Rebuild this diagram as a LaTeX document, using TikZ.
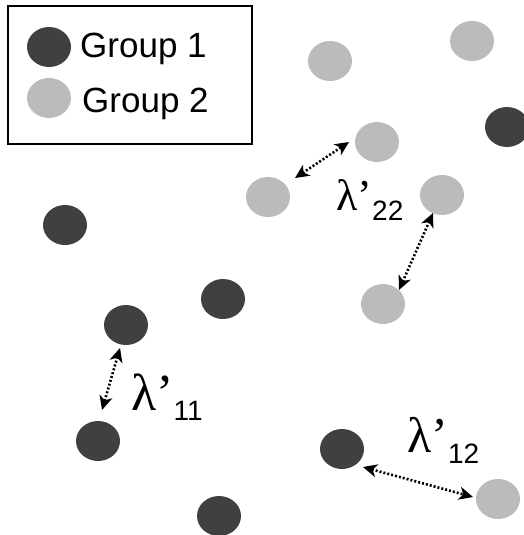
\documentclass[tikz,border=0pt]{standalone}
\usepackage{fontspec}
\setmainfont{Liberation Sans}
\newfontfamily\lamfont{Liberation Serif}
\usetikzlibrary{arrows.meta,calc}
\definecolor{darkdot}{HTML}{404040}
\definecolor{lightdot}{HTML}{BBBBBB}
\tikzset{
  dotdark/.style={ellipse,fill=darkdot,minimum width=44pt,minimum height=40pt,inner sep=0pt},
  dotlight/.style={ellipse,fill=lightdot,minimum width=44pt,minimum height=40pt,inner sep=0pt},
  arr/.style={line width=2.6pt,dash pattern=on 2pt off 2pt,{Stealth[length=14pt,width=13pt,inset=4pt]}-{Stealth[length=14pt,width=13pt,inset=4pt]}},
  legtext/.style={anchor=base west,inner sep=0pt,font=\fontsize{35}{40}\selectfont},
  lamlabel/.style={anchor=base west,inner sep=0pt}
}
\usetikzlibrary{shapes.geometric}
\newcommand{\lamlab}[3]{{\lamfont\fontsize{#1}{#1}\selectfont λ’}\raisebox{-#3pt}{\fontsize{28}{28}\selectfont #2}}
\begin{document}
\begin{tikzpicture}[x=1pt,y=-1pt]
\useasboundingbox (0,0) rectangle (524,535);
% legend
\node[draw,line width=2pt,minimum width=244pt,minimum height=138pt,inner sep=0pt] (legend) at (130,75) {};
\node[dotdark] (ld) at (49,47) {};
\node[dotlight] (ll) at (49,98) {};
\node[legtext] (lt1) at (80,58) {Group 1};
\node[legtext] (lt2) at (82,112) {Group 2};
% group 2 (light)
\node[dotlight] (g2a) at (330,61) {};
\node[dotlight] (g2b) at (472,41) {};
\node[dotlight] (g2c) at (377,142) {};
\node[dotlight] (g2d) at (268,197) {};
\node[dotlight] (g2e) at (442,195) {};
\node[dotlight] (g2f) at (383,304) {};
\node[dotlight] (g2g) at (498,499) {};
% group 1 (dark)
\node[dotdark] (g1a) at (507,127) {};
\node[dotdark] (g1b) at (65,225) {};
\node[dotdark] (g1c) at (223,299) {};
\node[dotdark] (g1d) at (126,325) {};
\node[dotdark] (g1e) at (98,441) {};
\node[dotdark] (g1f) at (342,449) {};
\node[dotdark] (g1g) at (219,516) {};
% arrows
\draw[arr] ($(g2d)+(27,-19)$) -- ($(g2c)+(-28,0)$);
\draw[arr] ($(g2e)+(-9,18)$) -- ($(g2f)+(16,-14)$);
\draw[arr] ($(g1d)+(-6,23)$) -- ($(g1e)+(4,-31)$);
\draw[arr] ($(g1f)+(21,18)$) -- ($(g2g)+(-25,-2)$);
% labels
\node[lamlabel] (lam22) at (336,210) {\lamlab{44}{22}{10}};
\node[lamlabel] (lam11) at (131,410) {\lamlab{52}{11}{10}};
\node[lamlabel] (lam12) at (407,452) {\lamlab{50}{12}{11}};
\end{tikzpicture}
\end{document}
